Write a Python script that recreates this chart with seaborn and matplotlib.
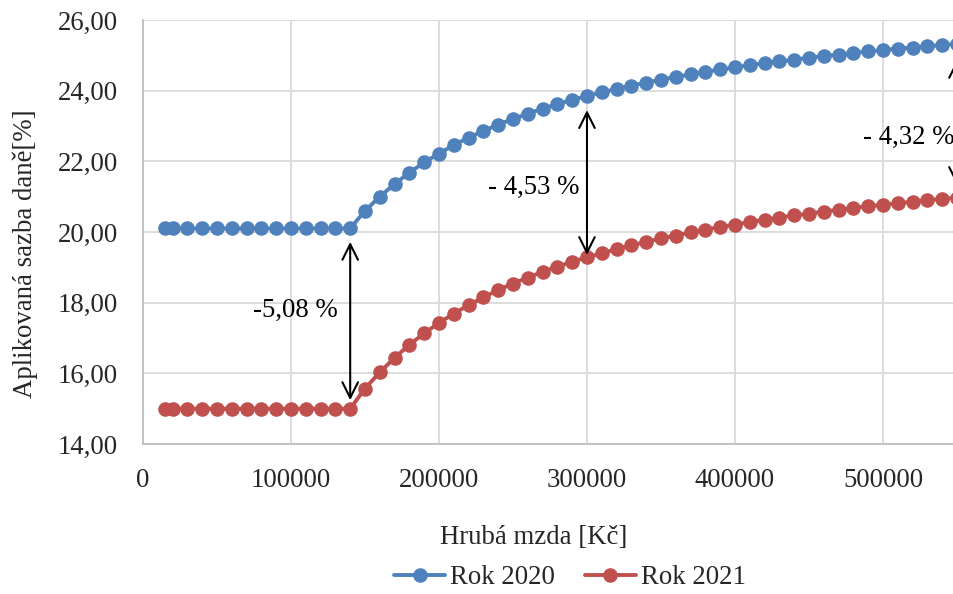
import matplotlib
matplotlib.use("Agg")
import matplotlib.pyplot as plt
import seaborn as sns
import pandas as pd

# ---- data ----
gross = [14600, 20000, 30000, 40000, 50000, 60000, 70000, 80000, 90000, 100000,
         110000, 120000, 130000, 140000, 150000, 160000, 170000, 180000, 190000, 200000,
         210000, 220000, 230000, 240000, 250000, 260000, 270000, 280000, 290000, 300000,
         310000, 320000, 330000, 340000, 350000, 360000, 370000, 380000, 390000, 400000,
         410000, 420000, 430000, 440000, 450000, 460000, 470000, 480000, 490000, 500000,
         510000, 520000, 530000, 540000, 550000]
rate_2020 = [20.10, 20.10, 20.10, 20.10, 20.10, 20.10, 20.10, 20.10, 20.10, 20.10,
             20.10, 20.10, 20.10, 20.10, 20.60, 21.00, 21.36, 21.68, 21.97, 22.22,
             22.46, 22.67, 22.86, 23.04, 23.20, 23.35, 23.49, 23.62, 23.74, 23.85,
             23.95, 24.05, 24.14, 24.23, 24.31, 24.39, 24.46, 24.53, 24.60, 24.66,
             24.72, 24.78, 24.83, 24.88, 24.93, 24.98, 25.02, 25.07, 25.11, 25.15,
             25.19, 25.22, 25.26, 25.29, 25.33]
rate_2021 = [15.00, 15.00, 15.00, 15.00, 15.00, 15.00, 15.00, 15.00, 15.00, 15.00,
             15.00, 15.00, 15.00, 15.00, 15.57, 16.03, 16.44, 16.81, 17.13, 17.43,
             17.69, 17.93, 18.15, 18.36, 18.54, 18.71, 18.87, 19.02, 19.16, 19.28,
             19.40, 19.52, 19.62, 19.72, 19.82, 19.90, 19.99, 20.07, 20.14, 20.21,
             20.28, 20.35, 20.41, 20.47, 20.52, 20.58, 20.63, 20.68, 20.73, 20.77,
             20.81, 20.86, 20.90, 20.94, 20.97]
series_names = ["Rok 2020", "Rok 2021"]
x_ticks = [0, 100000, 200000, 300000, 400000, 500000]
x_tick_labels = ["0", "100000", "200000", "300000", "400000", "500000"]
y_ticks = [14, 16, 18, 20, 22, 24, 26]
y_tick_labels = ["14,00", "16,00", "18,00", "20,00", "22,00", "24,00", "26,00"]
# difference annotations
diff_x = [140000, 300000, 550000]
diff_top = [19.72, 23.45, 24.87]
diff_bottom = [15.24, 19.35, 21.33]
diff_labels = ["-5,08 %", "- 4,53 %", "- 4,32 %"]
label_x = [102700, 264200, 486500]
label_y = [17.79, 21.27, 22.69]

df = pd.DataFrame({
    "gross": gross * 2,
    "rate": rate_2020 + rate_2021,
    "series": [series_names[0]] * len(gross) + [series_names[1]] * len(gross),
})

sns.set_theme(style="white")
plt.rcParams["font.family"] = ["Liberation Serif", "DejaVu Serif"]
FS = 19.3

fig = plt.figure(figsize=(9.54, 5.94), dpi=100)
ax = fig.add_axes([143 / 954, 1 - 444 / 594, (954 - 143) / 954, (444 - 20) / 594])

sns.lineplot(data=df, x="gross", y="rate", hue="series",
             palette=["#4F81BD", "#C0504D"], marker="o", markersize=10.5,
             markeredgewidth=0, linewidth=2.8, ax=ax, legend=True)

ax.set_xlim(0, 548000)
ax.set_ylim(14, 26)
ax.set_xticks(x_ticks)
ax.set_xticklabels(x_tick_labels)
ax.set_yticks(y_ticks)
ax.set_yticklabels(y_tick_labels)
ax.tick_params(axis="both", length=0, labelsize=FS)
ax.tick_params(axis="x", pad=17)
ax.tick_params(axis="y", pad=18)

ax.grid(True, color="#D9D9D9", linewidth=1.3)
ax.set_axisbelow(True)
for side in ["top", "right"]:
    ax.spines[side].set_visible(False)
for side in ["left", "bottom"]:
    ax.spines[side].set_color("#BFBFBF")
    ax.spines[side].set_linewidth(1.3)

ax.set_xlabel("Hrubá mzda [Kč]", fontsize=FS)
ax.xaxis.set_label_coords((534 - 143) / (954 - 143), -0.19)
ax.set_ylabel("Aplikovaná sazba daně[%]", fontsize=FS)
ax.yaxis.set_label_coords(-0.129, 0.45)

for xv, yt, yb, lab, lx, ly in zip(diff_x, diff_top, diff_bottom, diff_labels, label_x, label_y):
    ax.annotate("", xy=(xv, yt), xytext=(xv, yb), annotation_clip=False,
                arrowprops=dict(arrowstyle="<->", color="black", lw=1.5,
                                mutation_scale=28, shrinkA=0, shrinkB=0))
    ax.text(lx, ly, lab, fontsize=FS, ha="center" if xv < 500000 else "left",
            va="center", color="black")

handles, labels = ax.get_legend_handles_labels()
ax.legend(handles, labels, loc="center", bbox_to_anchor=(570 / 954, 1 - 578 / 594),
          bbox_transform=fig.transFigure, ncol=2, frameon=False, fontsize=FS,
          handlelength=1.9, handletextpad=0.2, columnspacing=1.1)

fig.savefig("out.png", dpi=100)
